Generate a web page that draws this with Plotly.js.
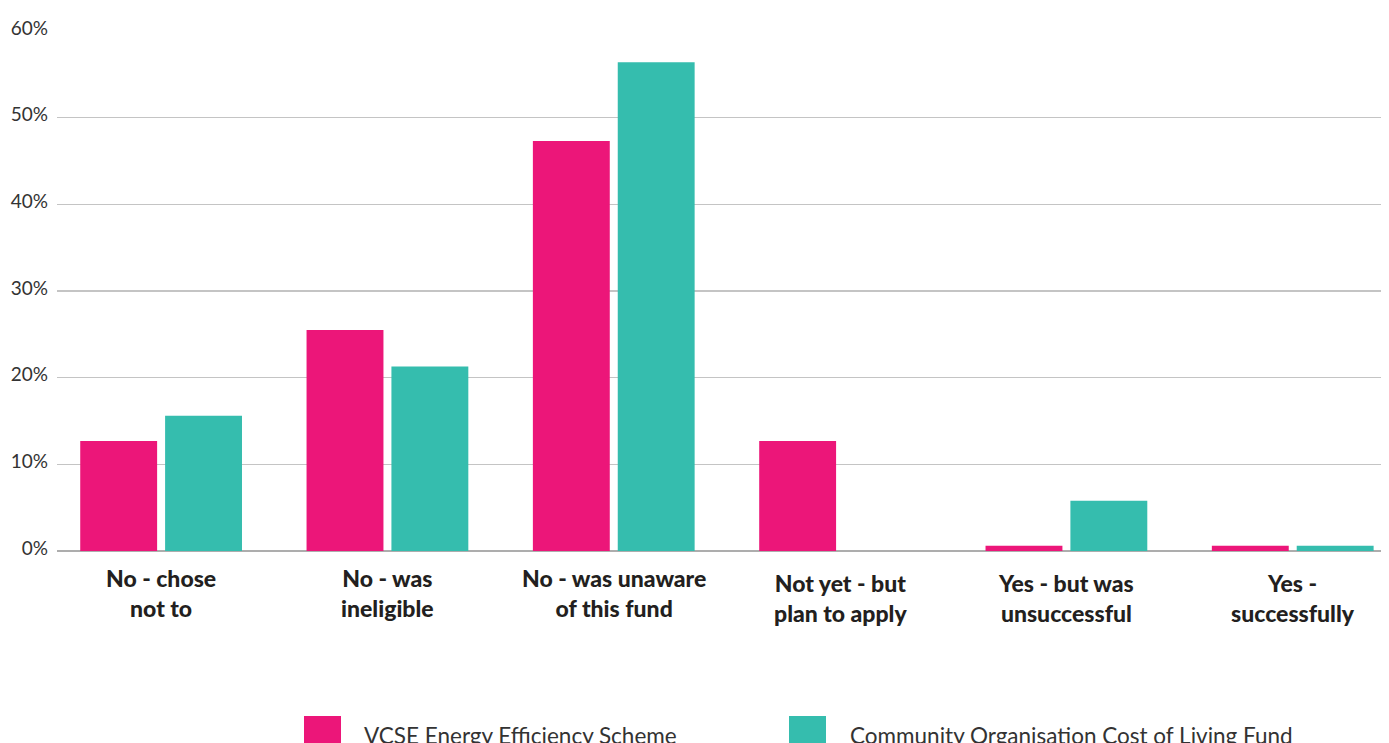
<!DOCTYPE html>
<html>
<head>
<meta charset="utf-8">
<script src="https://cdn.plot.ly/plotly-3.0.1.min.js"></script>
<style>
  html, body { margin: 0; padding: 0; background: #fff; }
  #chart { width: 1389px; height: 743px; }
</style>
</head>
<body>
<div id="chart"></div>
<script>
// Survey: "Have you applied to either fund?"
const categories = [
  "No - chose<br>not to",
  "No - was<br>ineligible",
  "No - was unaware<br>of this fund",
  "Not yet - but<br>plan to apply",
  "Yes - but was<br>unsuccessful",
  "Yes -<br>successfully"
];
const seriesNames = ["VCSE Energy Efficiency Scheme", "Community Organisation Cost of Living Fund"];
const vcseValues = [12.7, 25.5, 47.3, 12.7, 0.6, 0.6];
const colValues = [15.6, 21.3, 56.4, 0, 5.8, 0.6];
const yTickVals = [0, 10, 20, 30, 40, 50, 60];
const yTickText = ["0%", "10%", "20%", "30%", "40%", "50%", "60%"];

const PINK = "#ec1679";
const TEAL = "#35bdae";
const W = 1389, H = 743;
const M = { l: 57, r: 8, t: 31, b: 192 };
const plotW = W - M.l - M.r, plotH = H - M.t - M.b;
const px2x = px => (px - M.l) / plotW;
const px2y = py => (H - M.b - py) / plotH;

const xIdx = categories.map((_, i) => i);

const traces = [
  { type: "bar", name: seriesNames[0], x: xIdx, y: vcseValues, marker: { color: PINK }, hoverinfo: "y" },
  { type: "bar", name: seriesNames[1], x: xIdx, y: colValues, marker: { color: TEAL }, hoverinfo: "y" }
];

// Category labels sit under the axis; the last three are set a little lower
const labelDrop = [11, 11, 11, 16, 16, 16];
const annotations = categories.map((c, i) => ({
  xref: "x", yref: "paper", x: i, y: 0,
  xanchor: "center", yanchor: "top", yshift: -labelDrop[i],
  text: c, showarrow: false, align: "center",
  font: { family: "Lato, 'Noto Sans', sans-serif", size: 23, color: "#231f20", weight: 900 }
}));

// Legend: large swatches with labels
const swatches = [
  { left: 304, text: 362, color: PINK, name: seriesNames[0] },
  { left: 789, text: 848, color: TEAL, name: seriesNames[1] }
];
const shapes = [];
swatches.forEach(s => {
  shapes.push({
    type: "rect", xref: "paper", yref: "paper",
    x0: px2x(s.left), x1: px2x(s.left + 37),
    y0: px2y(716), y1: px2y(753),
    fillcolor: s.color, line: { width: 0 }
  });
  annotations.push({
    xref: "paper", yref: "paper", x: px2x(s.text), y: px2y(735),
    xanchor: "left", yanchor: "middle", showarrow: false,
    text: s.name,
    font: { family: "Lato, 'Noto Sans', sans-serif", size: 22.5, color: "#333333" }
  });
});

const layout = {
  width: W, height: H,
  margin: M,
  paper_bgcolor: "#ffffff", plot_bgcolor: "#ffffff",
  showlegend: false,
  barmode: "group",
  bargap: 0.25,
  bargroupgap: 0.094,
  xaxis: {
    type: "linear",
    range: [-0.46, 5.39],
    showticklabels: false, showgrid: false, zeroline: false, ticks: "",
    fixedrange: true
  },
  yaxis: {
    range: [0, 60],
    tickvals: yTickVals, ticktext: yTickText,
    showgrid: true, gridcolor: "#c4c4c4", gridwidth: 1.5,
    zeroline: true, zerolinecolor: "#adadad", zerolinewidth: 2,
    ticks: "", ticklabelstandoff: 8, ticklabelshift: -3,
    tickfont: { family: "Lato, 'Noto Sans', sans-serif", size: 19, color: "#333333" },
    fixedrange: true
  },
  shapes: shapes,
  annotations: annotations
};

Plotly.newPlot("chart", traces, layout, { displayModeBar: false, staticPlot: true });
</script>
</body>
</html>
